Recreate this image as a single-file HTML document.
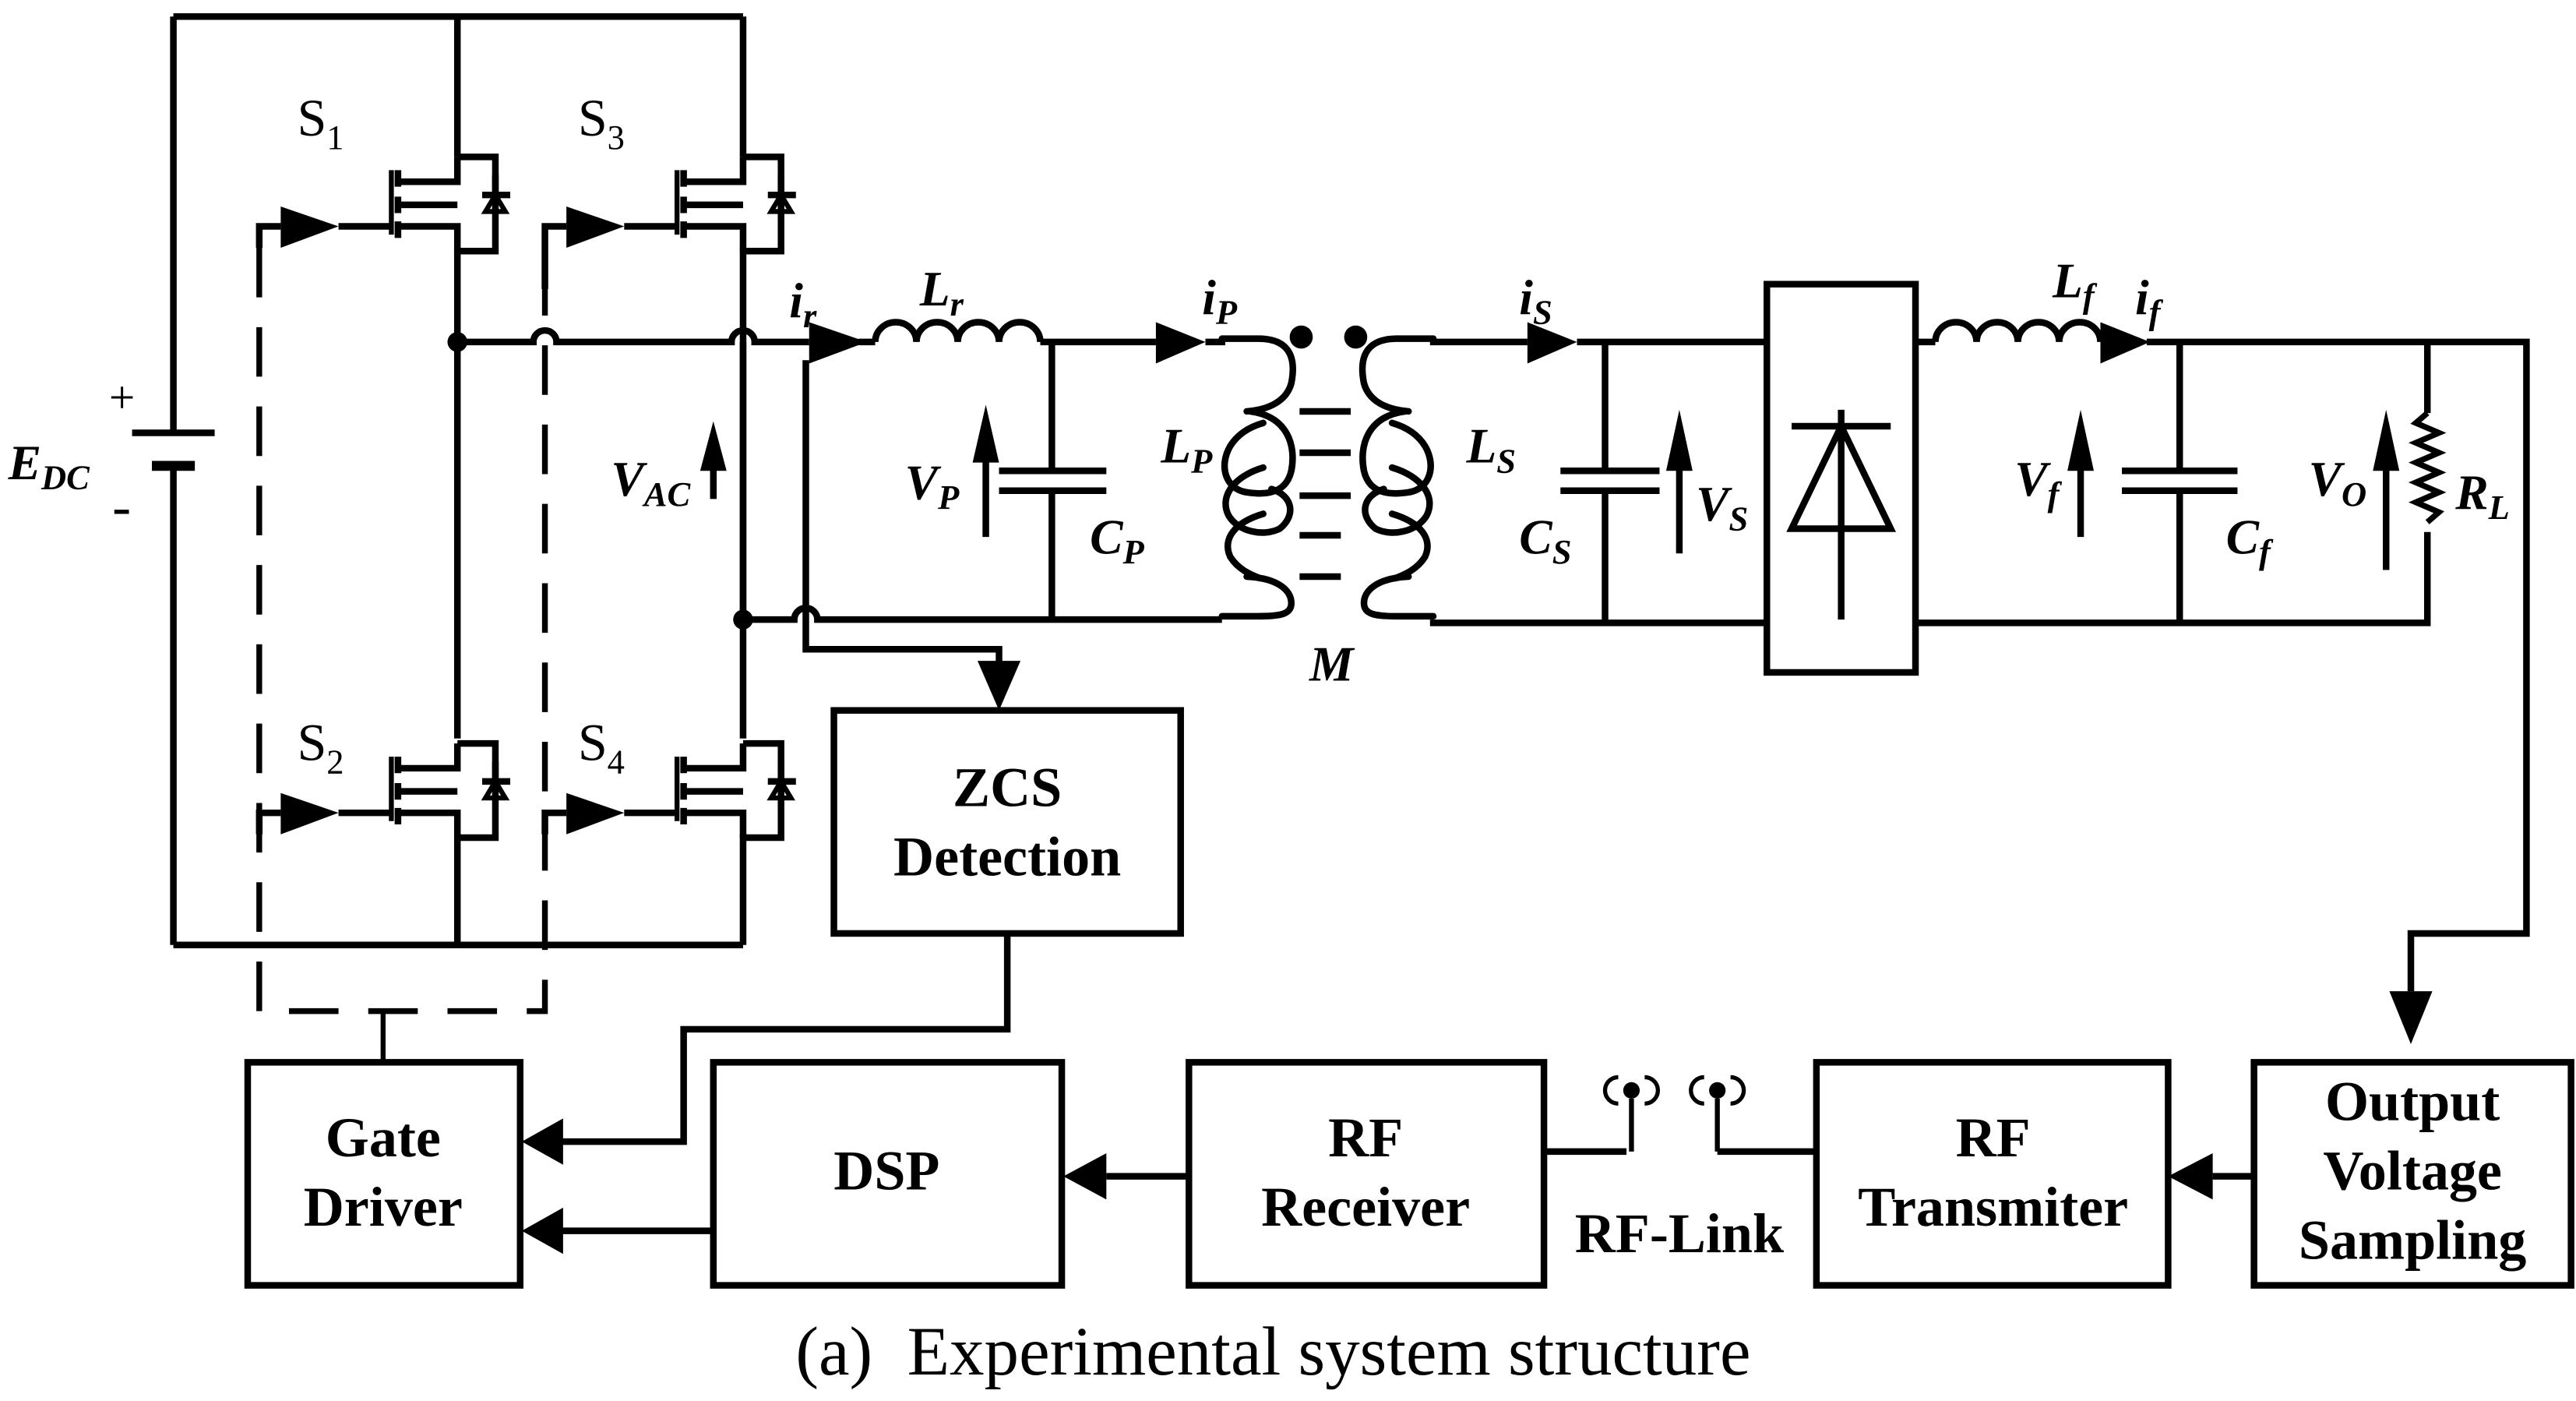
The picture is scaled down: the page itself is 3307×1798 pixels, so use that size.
<!DOCTYPE html>
<html><head><meta charset="utf-8"><style>
html,body{margin:0;padding:0;background:#fff;}
svg{display:block;}
text{font-family:"Liberation Serif",serif;fill:#000;}
.b{font-weight:bold;font-size:34px;}
.i{font-style:italic;font-weight:bold;font-size:30px;}
.s{font-size:21px;}
</style></head><body>
<svg width="3307" height="1798" viewBox="0 0 1560 848" preserveAspectRatio="none" xmlns="http://www.w3.org/2000/svg">
<defs>
<g id="coil" fill="none" stroke="#000" stroke-width="4" stroke-linecap="round">
<path d="M740 205H762C785 205 784 222 782 232C779 243 768 248 755 249"/>
<path d="M757 249C780 252 785 270 782 285C779 298 768 300 755 298C742 296 738 282 745 270C750 262 758 258 765 256"/>
<path d="M765 283C748 288 738 300 744 312C750 322 765 325 775 320C785 312 783 300 770 296"/>
<path d="M765 311C748 316 740 326 745 337C750 345 758 348 763 350"/>
<path d="M755 349C775 350 782 358 782 365C782 372 775 373 762 373H740"/>
</g>
</defs>
<g stroke="#000" stroke-width="4" fill="none" stroke-linejoin="miter">
<!-- inverter frame -->
<path d="M105 10H450M105 572H450M105 10V262M105 282V572"/>
<path d="M80 262H130"/>
<path d="M92 282H118" stroke-width="6"/>
<path d="M277 10V95M277 150V447M277 505V572"/>
<path d="M450 10V95M450 150V447M450 505V572"/>
<!-- mosfets -->
<g id="m1">
<path d="M277 95V110H241M277 152V137H241M241 124H277"/>
<path d="M277 95H300V152H277"/>
<path d="M237 103V142" stroke-width="3"/>
<path d="M241 103V113M241 119V129M241 134V144" stroke-width="4"/>
<path d="M205 137H237"/>
<path d="M292 118H309M300 106V118"/>
<path d="M300 118L294 128H306Z" stroke-width="3"/>
</g>
<use href="#m1" transform="translate(173,0)"/>
<use href="#m1" transform="translate(0,355)"/>
<use href="#m1" transform="translate(173,355)"/>
<path d="M157 150V137H170M330 175V137H343M157 505V492H170M330 505V492H343"/>
<!-- dashed -->
<path d="M157 150V612H330V150" stroke-dasharray="30,18" stroke-width="3.5"/>
<path d="M232 612V643" stroke-width="3"/>
<!-- mid nodes -->
<path d="M277 207H323a7 7 0 0 1 14 0H443a7 7 0 0 1 14 0H490"/>
<path d="M450 375H481a7 7 0 0 1 14 0H740"/>
<path d="M450 207V375"/>
<path d="M488 218V393H605V405"/>
<path d="M432 302V275"/>
<!-- Lr -->
<path d="M520 207H530"/>
<path d="M530 207a12.5 12 0 0 1 25 0a12.5 12 0 0 1 25 0a12.5 12 0 0 1 25 0a12.5 12 0 0 1 25 0"/>
<path d="M630 207H700M730 207H742"/>
<!-- Cp -->
<path d="M637 207V285M637 297V375M605 285H670M605 297H670"/>
<path d="M597 325V275"/>
<!-- core bars -->
<path d="M787 249H818M787 274H818M787 300H818M787 324H812M787 349H812"/>
<!-- secondary wiring -->
<path d="M866 377H1070M866 207H925"/>
<path d="M955 207H1070"/>
<path d="M972 207V285M972 297V377M945 285H1005M945 297H1005"/>
<path d="M1017 335V280"/>
<!-- rectifier -->
<rect x="1070" y="172" width="90" height="235"/>
<path d="M1115 248V375M1085 258H1145M1085 320H1145L1115 258Z"/>
<!-- output -->
<path d="M1160 207H1172"/>
<path d="M1172 207a12.5 12 0 0 1 25 0a12.5 12 0 0 1 25 0a12.5 12 0 0 1 25 0a12.5 12 0 0 1 25 0"/>
<path d="M1300 207H1530V565H1460V600"/>
<path d="M1160 377H1470V322M1470 207V250"/>
<path d="M1470 250l-7 6l14 6l-14 6l14 6l-14 6l14 6l-14 6l14 6l-14 6l14 6l-7 6" stroke-width="3.5"/>
<path d="M1320 207V285M1320 297V377M1285 285H1355M1285 297H1355"/>
<path d="M1260 325V275M1445 345V275"/>
<!-- boxes -->
<rect x="150" y="643" width="165" height="135"/>
<rect x="432" y="643" width="211" height="135"/>
<rect x="720" y="643" width="215" height="135"/>
<rect x="1100" y="643" width="213" height="135"/>
<rect x="1365" y="643" width="192" height="135"/>
<rect x="505" y="430" width="210" height="135"/>
<!-- feedback lines -->
<path d="M610 565V623H414V691H340M432 745H340M720 712H670M1365 712H1340"/>
<path d="M935 697H985M1040 697H1100"/>
<path d="M988 697V665M1040 697V665" stroke-width="3"/>
</g>
<use href="#coil"/>
<use href="#coil" transform="translate(1608,0) scale(-1,1)"/>
<g fill="#000">
<path d="M170 125L205 137L170 150Z"/><path d="M343 125L378 137L343 150Z"/>
<path d="M170 480L205 492L170 505Z"/><path d="M343 480L378 492L343 505Z"/>
<path d="M490 195L525 207L490 220Z"/>
<path d="M700 195L730 207L700 220Z"/>
<path d="M925 195L955 207L925 220Z"/>
<path d="M1272 195L1302 207L1272 220Z"/>
<path d="M592 400H618L605 430Z"/>
<path d="M1447 600H1473L1460 632Z"/>
<path d="M316 691L341 677V705Z"/><path d="M316 745L341 731V759Z"/>
<path d="M644 712L670 698V726Z"/><path d="M1313 712L1340 698V726Z"/>
<path d="M432 255L424 285H440Z"/><path d="M597 245L589 280H605Z"/>
<path d="M1017 248L1009 285H1025Z"/><path d="M1260 248L1252 285H1268Z"/>
<path d="M1445 248L1437 285H1453Z"/>
<circle cx="277" cy="207" r="6"/><circle cx="450" cy="375" r="6"/>
<circle cx="788" cy="204" r="7"/><circle cx="821" cy="204" r="7"/>
<circle cx="988" cy="660" r="5"/><circle cx="1040" cy="660" r="5"/>
</g>
<g stroke="#000" stroke-width="2.5" fill="none">
<path d="M980 652a8 8 0 0 0 0 16M996 652a8 8 0 0 1 0 16M1032 652a8 8 0 0 0 0 16M1048 652a8 8 0 0 1 0 16"/>
</g>
<text x="180" y="82" font-size="32">S<tspan class="s" dy="8">1</tspan></text>
<text x="350" y="82" font-size="32">S<tspan class="s" dy="8">3</tspan></text>
<text x="180" y="460" font-size="32">S<tspan class="s" dy="8">2</tspan></text>
<text x="350" y="460" font-size="32">S<tspan class="s" dy="8">4</tspan></text>
<text x="5" y="290" class="i">E<tspan class="s" dy="6">DC</tspan></text>
<text x="66" y="250" font-size="28">+</text>
<text x="68" y="318" font-size="34">-</text>
<text x="370" y="300" class="i">V<tspan class="s" dy="6">AC</tspan></text>
<text x="478" y="192" class="i">i<tspan class="s" dy="6">r</tspan></text>
<text x="557" y="185" class="i">L<tspan class="s" dy="6">r</tspan></text>
<text x="728" y="190" class="i">i<tspan class="s" dy="6">P</tspan></text>
<text x="920" y="190" class="i">i<tspan class="s" dy="6">S</tspan></text>
<text x="548" y="302" class="i">V<tspan class="s" dy="6">P</tspan></text>
<text x="660" y="335" class="i">C<tspan class="s" dy="6">P</tspan></text>
<text x="703" y="280" class="i">L<tspan class="s" dy="6">P</tspan></text>
<text x="888" y="280" class="i">L<tspan class="s" dy="6">S</tspan></text>
<text x="793" y="412" class="i">M</text>
<text x="920" y="335" class="i">C<tspan class="s" dy="6">S</tspan></text>
<text x="1027" y="315" class="i">V<tspan class="s" dy="6">S</tspan></text>
<text x="1243" y="180" class="i">L<tspan class="s" dy="6">f</tspan></text>
<text x="1293" y="190" class="i">i<tspan class="s" dy="6">f</tspan></text>
<text x="1220" y="300" class="i">V<tspan class="s" dy="6">f</tspan></text>
<text x="1348" y="335" class="i">C<tspan class="s" dy="6">f</tspan></text>
<text x="1398" y="300" class="i">V<tspan class="s" dy="6">O</tspan></text>
<text x="1487" y="308" class="i">R<tspan class="s" dy="6">L</tspan></text>
<g class="b" text-anchor="middle">
<text x="610" y="488">ZCS</text><text x="610" y="530">Detection</text>
<text x="232" y="700">Gate</text><text x="232" y="742">Driver</text>
<text x="537" y="720">DSP</text>
<text x="827" y="700">RF</text><text x="827" y="742">Receiver</text>
<text x="1207" y="700">RF</text><text x="1207" y="742">Transmiter</text>
<text x="1461" y="678">Output</text><text x="1461" y="720">Voltage</text><text x="1461" y="762">Sampling</text>
<text x="1017" y="758">RF-Link</text>
</g>
<text x="771" y="832" font-size="42" text-anchor="middle" xml:space="preserve">(a)  Experimental system structure</text>
</svg>
</body></html>
